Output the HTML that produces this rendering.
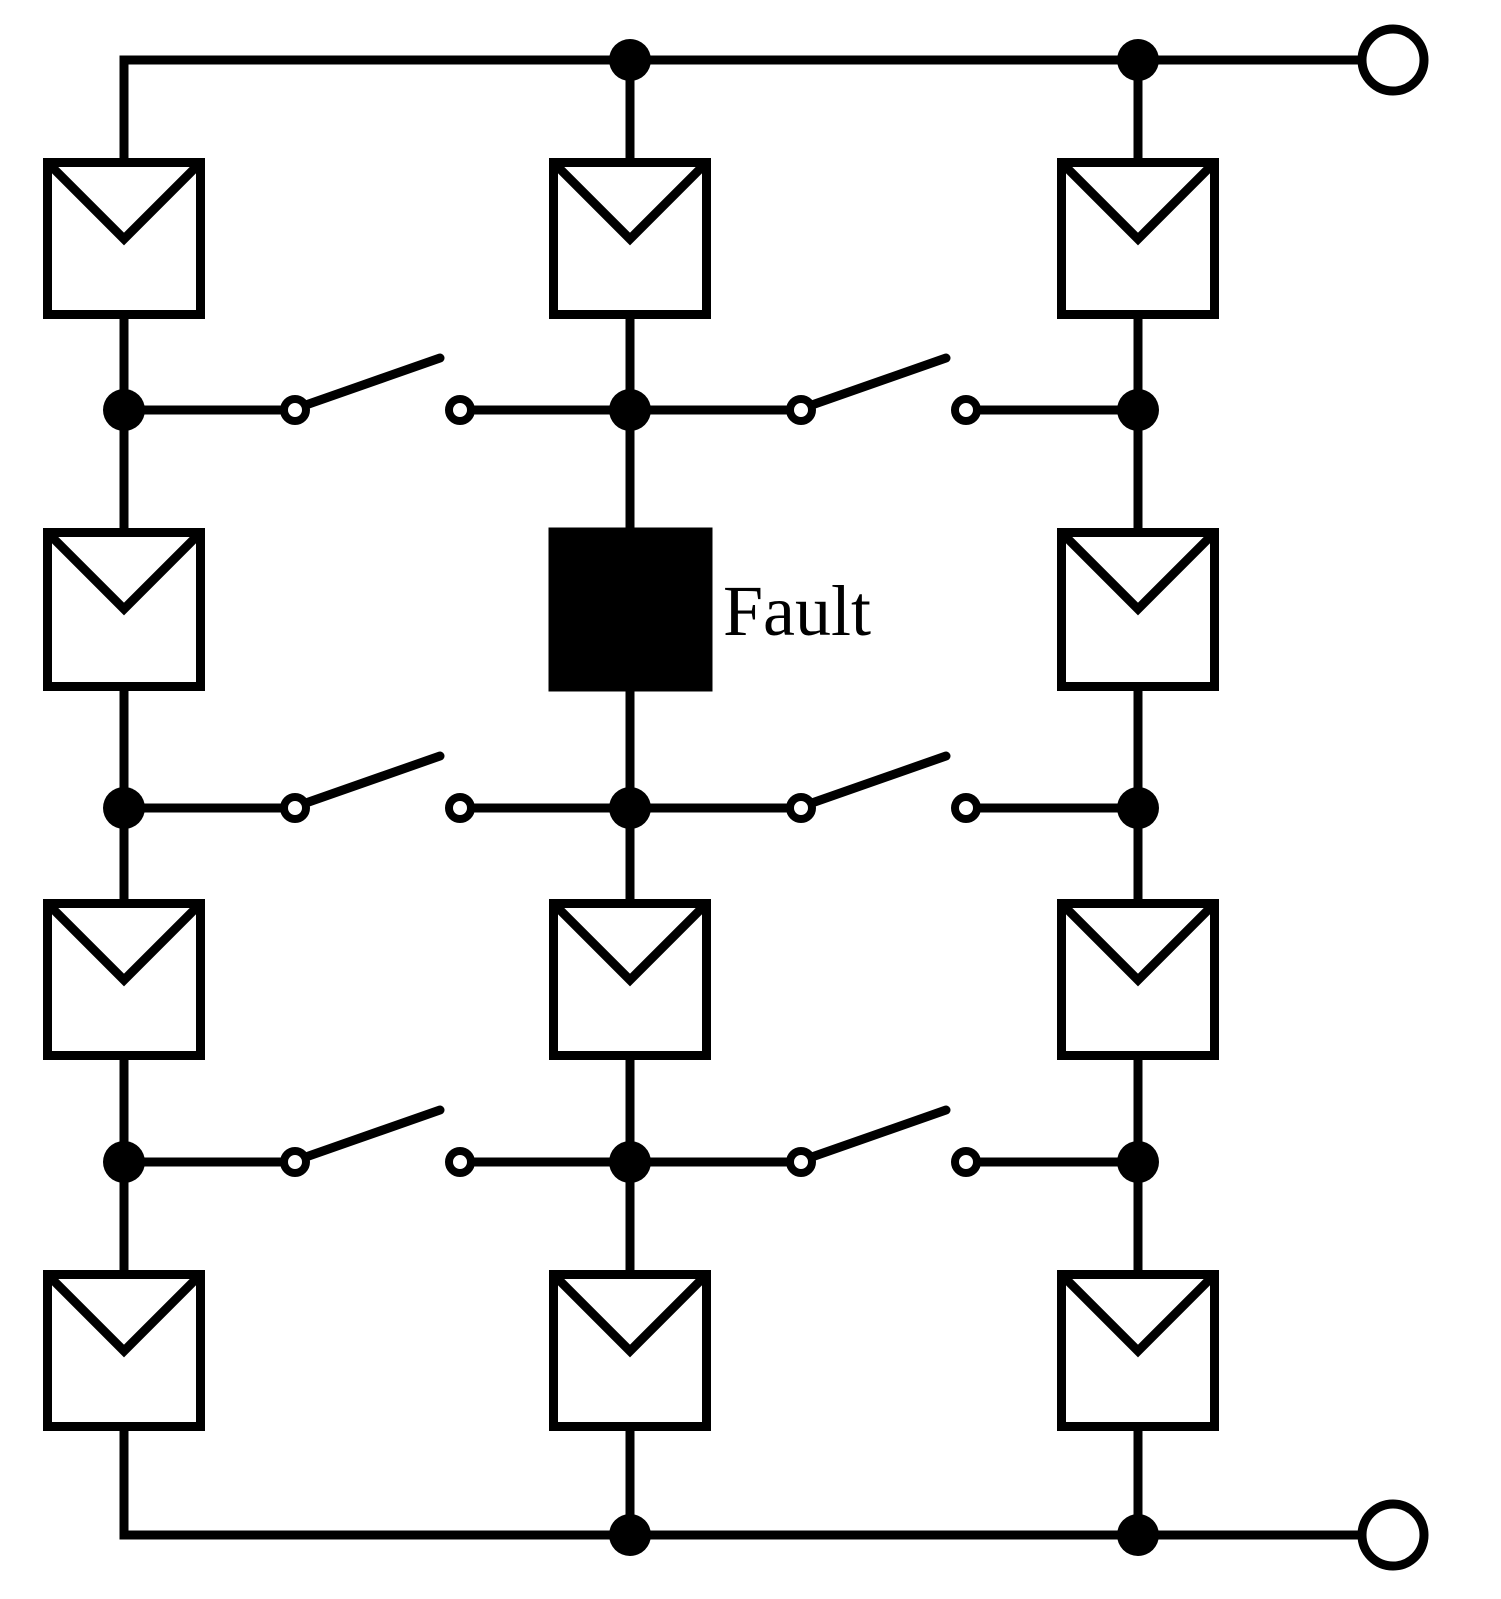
<!DOCTYPE html>
<html><head><style>html,body{margin:0;padding:0;background:#fff}svg{display:block}</style></head>
<body>
<svg width="1501" height="1599" viewBox="0 0 1501 1599" xmlns="http://www.w3.org/2000/svg">
<g stroke="#000" stroke-width="9" fill="none" stroke-linecap="butt">
<!-- top and bottom buses -->
<polyline points="124,162 124,60 1362,60"/>
<polyline points="124,1431 124,1535 1362,1535"/>
<!-- column wires -->
<line x1="124" y1="60" x2="124" y2="1535"/>
<line x1="630" y1="60" x2="630" y2="1535"/>
<line x1="1138" y1="60" x2="1138" y2="1535"/>
<!-- junction horizontals -->
<line x1="124" y1="410" x2="284" y2="410"/><line x1="471" y1="410" x2="790" y2="410"/><line x1="977" y1="410" x2="1138" y2="410"/>
<line x1="124" y1="808" x2="284" y2="808"/><line x1="471" y1="808" x2="790" y2="808"/><line x1="977" y1="808" x2="1138" y2="808"/>
<line x1="124" y1="1162" x2="284" y2="1162"/><line x1="471" y1="1162" x2="790" y2="1162"/><line x1="977" y1="1162" x2="1138" y2="1162"/>
</g>
<g id="panels" stroke="#000" stroke-width="9" fill="#fff" stroke-linejoin="miter">
<rect x="47.5" y="162.5" width="153" height="152"/><polyline fill="none" points="52,167 124,239 196,167"/>
<rect x="553.5" y="162.5" width="153" height="152"/><polyline fill="none" points="558,167 630,239 702,167"/>
<rect x="1061.5" y="162.5" width="153" height="152"/><polyline fill="none" points="1066,167 1138,239 1210,167"/>

<rect x="47.5" y="532.5" width="153" height="154"/><polyline fill="none" points="52,537 124,609 196,537"/>
<rect x="553" y="532" width="155" height="155" fill="#000"/>
<rect x="1061.5" y="532.5" width="153" height="154"/><polyline fill="none" points="1066,537 1138,609 1210,537"/>

<rect x="47.5" y="903.5" width="153" height="152"/><polyline fill="none" points="52,908 124,980 196,908"/>
<rect x="553.5" y="903.5" width="153" height="152"/><polyline fill="none" points="558,908 630,980 702,908"/>
<rect x="1061.5" y="903.5" width="153" height="152"/><polyline fill="none" points="1066,908 1138,980 1210,908"/>

<rect x="47.5" y="1274.5" width="153" height="152"/><polyline fill="none" points="52,1279 124,1351 196,1279"/>
<rect x="553.5" y="1274.5" width="153" height="152"/><polyline fill="none" points="558,1279 630,1351 702,1279"/>
<rect x="1061.5" y="1274.5" width="153" height="152"/><polyline fill="none" points="1066,1279 1138,1351 1210,1279"/>
</g>
<!-- switches -->
<g stroke="#000" stroke-width="9" stroke-linecap="round" fill="none">
<line x1="303" y1="406" x2="440" y2="358"/><line x1="809" y1="406" x2="946" y2="358"/>
<line x1="303" y1="804" x2="440" y2="756"/><line x1="809" y1="804" x2="946" y2="756"/>
<line x1="303" y1="1158" x2="440" y2="1110"/><line x1="809" y1="1158" x2="946" y2="1110"/>
</g>
<g stroke="#000" stroke-width="8" fill="#fff">
<circle cx="295" cy="410" r="11"/><circle cx="460" cy="410" r="11"/><circle cx="801" cy="410" r="11"/><circle cx="966" cy="410" r="11"/>
<circle cx="295" cy="808" r="11"/><circle cx="460" cy="808" r="11"/><circle cx="801" cy="808" r="11"/><circle cx="966" cy="808" r="11"/>
<circle cx="295" cy="1162" r="11"/><circle cx="460" cy="1162" r="11"/><circle cx="801" cy="1162" r="11"/><circle cx="966" cy="1162" r="11"/>
<circle cx="1393" cy="60" r="31" stroke-width="9"/>
<circle cx="1393" cy="1535" r="31" stroke-width="9"/>
</g>
<g fill="#000">
<circle cx="630" cy="60" r="21"/><circle cx="1138" cy="60" r="21"/>
<circle cx="630" cy="1535" r="21"/><circle cx="1138" cy="1535" r="21"/>
<circle cx="124" cy="410" r="21"/><circle cx="630" cy="410" r="21"/><circle cx="1138" cy="410" r="21"/>
<circle cx="124" cy="808" r="21"/><circle cx="630" cy="808" r="21"/><circle cx="1138" cy="808" r="21"/>
<circle cx="124" cy="1162" r="21"/><circle cx="630" cy="1162" r="21"/><circle cx="1138" cy="1162" r="21"/>
</g>
<text x="723" y="635" font-family="Liberation Serif, serif" font-size="72" fill="#000">Fault</text>
</svg>
</body></html>
